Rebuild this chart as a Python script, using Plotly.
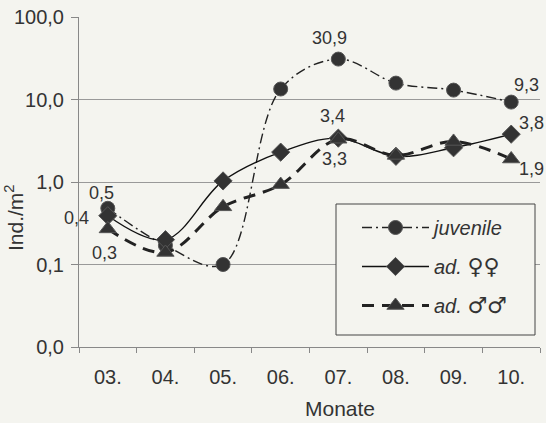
import math
import plotly.graph_objects as go

months = ["03.", "04.", "05.", "06.", "07.", "08.", "09.", "10."]
juvenile = [0.48, 0.17, 0.10, 13.4, 30.9, 15.8, 13.0, 9.3]
females = [0.39, 0.20, 1.03, 2.3, 3.4, 2.05, 2.6, 3.8]
males = [0.27, 0.14, 0.50, 0.93, 3.3, 2.1, 3.1, 1.9]

y_tickvals = [0.01, 0.1, 1, 10, 100]
y_ticktext = ["0,0", "0,1", "1,0", "10,0", "100,0"]

# which points carry a value label, with label offset in px (dx, dy up)
juv_lab = {0: (-6, 15), 4: (-9, 21), 7: (15, 17)}
fem_lab = {0: (-31, -2), 4: (-6, 22), 7: (20, 11)}
mal_lab = {0: (-3, -24), 4: (-4, -20), 7: (20, -10)}


def fmt(v):
    return f"{v:.1f}".replace(".", ",")


BG = "#f4f4ef"
FONT = "Liberation Sans, Arial, DejaVu Sans, sans-serif"
SYM = "<span style=\"font-family:'DejaVu Sans';font-size:22px\">{}</span>"

W, H = 546, 423
L, T = 79, 17
R = W - 540
B = H - 347
pw = W - L - R
ph = H - T - B


def px(xp):
    return (xp - L) / pw


def py(yp):
    return 1 - (yp - T) / ph


fig = go.Figure()
fig.add_trace(go.Scatter(
    x=months, y=juvenile, name="<i>juvenile</i>", legendgroup="a",
    mode="lines+markers",
    line=dict(color="#222", width=1.4, dash="10px,4px,2px,4px", shape="spline", smoothing=1.0),
    marker=dict(symbol="circle", size=14, color="#333", line=dict(color="#555", width=1)),
))
fig.add_trace(go.Scatter(
    x=months, y=females, name="<i>ad.</i> " + SYM.format("♀♀"), legendgroup="b",
    mode="lines+markers",
    line=dict(color="#111", width=1.4, shape="spline", smoothing=1.0),
    marker=dict(symbol="diamond", size=14, color="#333", line=dict(color="#555", width=1)),
))
fig.add_trace(go.Scatter(
    x=months, y=males, name="<i>ad.</i> " + SYM.format("♂♂"), legendgroup="c",
    mode="lines+markers",
    line=dict(color="#222", width=3, dash="12px,8px", shape="spline", smoothing=1.0),
    marker=dict(symbol="triangle-up", size=15, color="#333", line=dict(color="#555", width=1)),
))

annotations = []
for vals, lab in ((juvenile, juv_lab), (females, fem_lab), (males, mal_lab)):
    for i, (dx, dy) in lab.items():
        annotations.append(dict(
            x=i, y=math.log10(vals[i]), xref="x", yref="y", text=fmt(vals[i]),
            showarrow=False, xshift=dx, yshift=dy,
            font=dict(size=18, color="#333"),
        ))

annotations += [
    dict(text="Ind./m<sup>2</sup>", textangle=-90, xref="paper", yref="paper",
         x=px(14), y=py(218), xanchor="center", yanchor="middle",
         showarrow=False, font=dict(size=21, color="#333")),
    dict(text="Monate", xref="paper", yref="paper",
         x=px(340), y=py(408), xanchor="center", yanchor="middle",
         showarrow=False, font=dict(size=21, color="#333")),
]

fig.update_layout(
    width=W, height=H,
    margin=dict(l=L, r=R, t=T, b=B, pad=0, autoexpand=False),
    paper_bgcolor=BG, plot_bgcolor=BG,
    font=dict(family=FONT, size=20, color="#333"),
    showlegend=True,
    legend=dict(
        x=px(357), xanchor="left",
        y=py(208), yanchor="top",
        bgcolor="rgba(0,0,0,0)", borderwidth=0,
        font=dict(size=20, color="#333"),
        itemwidth=67, tracegroupgap=10,
    ),
    xaxis=dict(
        type="category", categoryorder="array", categoryarray=months,
        range=[-0.5, 7.5],
        showgrid=False, showline=True, linecolor="#888", linewidth=1,
        ticks="outside", tickson="boundaries", ticklen=5, tickcolor="#888",
        tickfont=dict(size=20, color="#333"),
        ticklabelstandoff=12,
        zeroline=False,
    ),
    yaxis=dict(
        type="log", range=[-2, 2],
        tickvals=y_tickvals, ticktext=y_ticktext,
        showgrid=True, gridcolor="#999", gridwidth=1,
        showline=True, linecolor="#888", linewidth=1,
        ticks="outside", ticklen=7, tickcolor="#888",
        tickfont=dict(size=20, color="#333"),
        ticklabelstandoff=3, ticklabeloverflow="allow",
        zeroline=False,
    ),
    shapes=[
        dict(type="rect", xref="paper", yref="paper", layer="above",
             x0=px(336), x1=px(535), y0=py(335), y1=py(204),
             fillcolor=BG, line=dict(color="#444", width=1)),
    ],
    annotations=annotations,
)

fig.write_html(
    "out.html",
    config={"displayModeBar": False},
    post_script="document.body.style.margin='0';document.body.style.background='%s';" % BG,
)
